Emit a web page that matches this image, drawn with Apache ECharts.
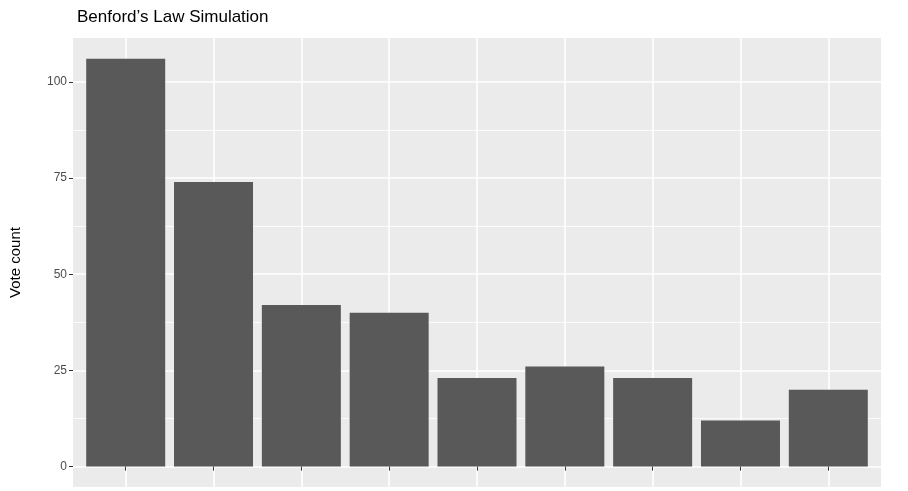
<!DOCTYPE html><html><head><meta charset="utf-8"><script src="https://cdn.jsdelivr.net/npm/echarts@6/dist/echarts.min.js"></script></head><body style="margin:0;background:#fff"><div id="c" style="width:908px;height:491px"></div><script>
const digits=[1,2,3,4,5,6,7,8,9];
const counts=[106,74,42,40,23,26,23,12,20];
const yTicks=[0,25,50,75,100];
const yMinor=[12.5,37.5,62.5,87.5];
const ch=echarts.init(document.getElementById('c'));
ch.setOption({
 animation:false,
 title:{text:'Benford’s Law Simulation',left:72,top:4,textStyle:{fontFamily:'Liberation Sans',fontSize:17,fontWeight:'normal',color:'#000'}},
 grid:{left:72,right:27,top:38,bottom:4,show:true,backgroundColor:'#EBEBEB',borderWidth:0},
 xAxis:{type:'value',min:0.4,max:9.6,axisLine:{show:false},
  axisTick:{customValues:digits,length:4,lineStyle:{color:'#333'}},
  axisLabel:{customValues:digits,show:false},
  splitLine:{show:true,lineStyle:{color:'#fff',width:1.6}}},
 yAxis:{type:'value',min:-5.3,max:111.4,name:'Vote count',nameLocation:'middle',nameGap:50,nameRotate:90,
  nameTextStyle:{fontFamily:'Liberation Sans',fontSize:15,color:'#000'},
  axisLine:{show:false},
  axisTick:{customValues:yTicks,length:4,lineStyle:{color:'#333'}},
  axisLabel:{customValues:yTicks,fontFamily:'Liberation Sans',fontSize:12,color:'#4D4D4D',margin:6},
  splitLine:{show:true,lineStyle:{color:'#fff',width:1.6}}},
 series:[{type:'bar',data:digits.map((d,i)=>[d,counts[i]]),barWidth:79,itemStyle:{color:'#595959'},z:3,
  markLine:{silent:true,symbol:'none',label:{show:false},lineStyle:{color:'#fff',width:0.8,type:'solid'},data:yMinor.map(v=>({yAxis:v})),z:1}}]
});
</script></body></html>
